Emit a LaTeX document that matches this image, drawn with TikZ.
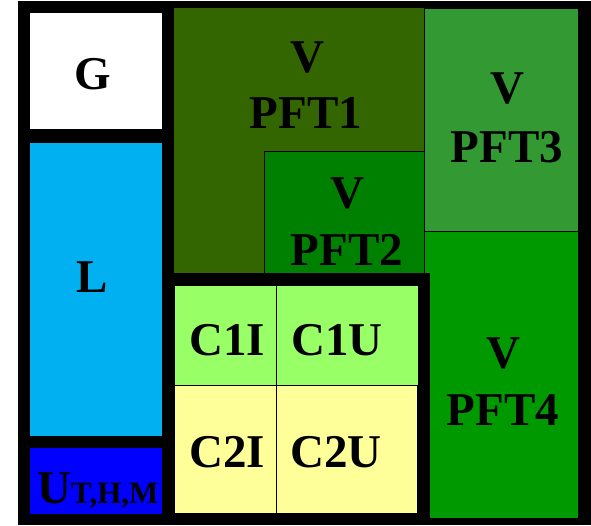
\documentclass[tikz,border=0pt]{standalone}
\usepackage{fontspec}
\setmainfont{Liberation Serif}
\definecolor{cpftone}{HTML}{336600}
\definecolor{cpfttwo}{HTML}{008000}
\definecolor{cpftthree}{HTML}{339933}
\definecolor{cpftfour}{HTML}{009900}
\definecolor{ccone}{HTML}{99FF66}
\definecolor{cctwo}{HTML}{FFFF99}
\definecolor{cl}{HTML}{00B0F0}
\definecolor{cu}{HTML}{0000FF}
\tikzset{
  lbl/.style={anchor=base, inner sep=0pt, font=\fontsize{47}{50}\selectfont\bfseries},
  thinb/.style={draw=black, line width=1pt}
}
\begin{document}
\begin{tikzpicture}[x=1pt,y=-1pt]
\useasboundingbox (0,0) rectangle (591,525);
% black background
\fill[black] (18,1) rectangle (591,525);
% left column
\fill[white] (30,13) rectangle (162,129);
\fill[cl] (30,143) rectangle (162,436);
\fill[cu] (30,448) rectangle (162,514);
% vegetation
\fill[cpftone] (174,8) rectangle (424,273);
\filldraw[fill=cpfttwo, thinb] (264,151) rectangle (424,273);
\filldraw[fill=cpftthree, thinb] (424,8) rectangle (578,231);
\filldraw[fill=cpftfour, thinb] (424,231) rectangle (578,518);
% C frame
\fill[black] (162,273) rectangle (430,525);
\filldraw[fill=ccone, thinb] (174,285) rectangle (418,385);
\filldraw[fill=cctwo, thinb] (174,385) rectangle (417,513);
\coordinate (dtop) at (276,285);
\coordinate (dbot) at (276,513);
\draw[line width=1pt] (dtop) -- (dbot);
% labels
\node[lbl] (g) at (93,89) {G};
\node[lbl] (l) at (92,292) {L};
\node[anchor=base west, inner sep=0pt, font=\fontsize{47}{50}\selectfont\bfseries] (u) at (37,503) {U\fontsize{31}{33}\selectfont T,H,M};
\node[lbl] (v1) at (307,72) {V};
\node[lbl] (p1) at (306,128) {PFT1};
\node[lbl] (v2) at (347,208) {V};
\node[lbl] (p2) at (347,265) {PFT2};
\node[lbl] (v3) at (507,103) {V};
\node[lbl] (p3) at (507,162) {PFT3};
\node[lbl] (v4) at (503,368) {V};
\node[lbl] (p4) at (503,425) {PFT4};
\node[lbl] (c1i) at (227,355) {C1I};
\node[lbl] (c1u) at (337,355) {C1U};
\node[lbl] (c2i) at (227,467) {C2I};
\node[lbl] (c2u) at (336,467) {C2U};
\end{tikzpicture}
\end{document}
